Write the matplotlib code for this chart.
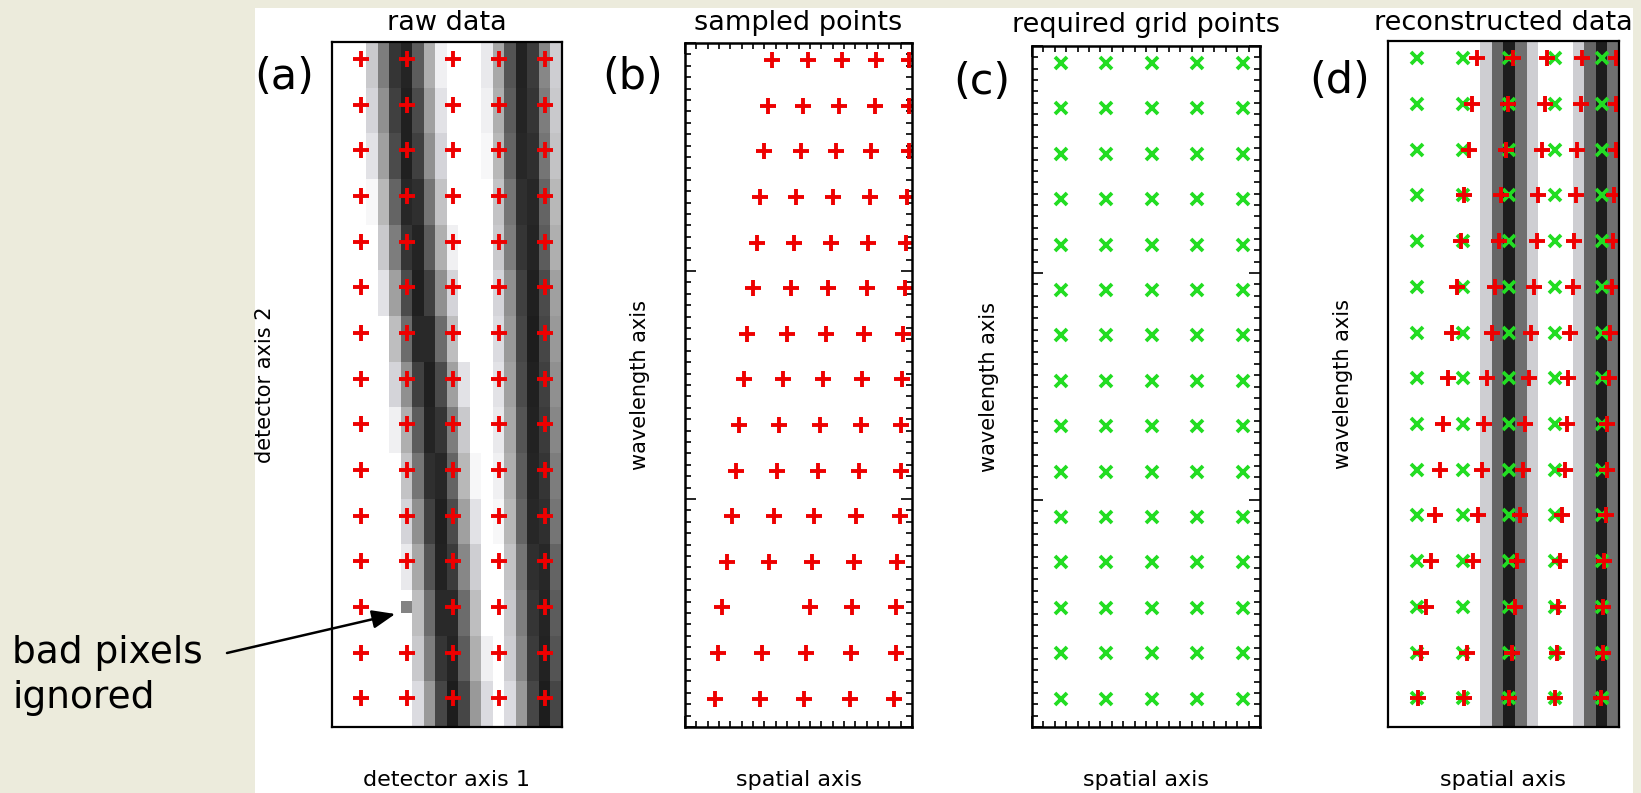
import numpy as np
import matplotlib
matplotlib.use("Agg")
import matplotlib.pyplot as plt
from matplotlib.colors import LinearSegmentedColormap
from matplotlib.ticker import MultipleLocator
from matplotlib.patches import Rectangle

# ---------------- data ----------------
titles = ["raw data", "sampled points", "required grid points", "reconstructed data"]
panel_tags = ["(a)", "(b)", "(c)", "(d)"]
xlabels = ["detector axis 1", "spatial axis", "spatial axis", "spatial axis"]
ylabels = ["detector axis 2", "wavelength axis", "wavelength axis", "wavelength axis"]
note_lines = ["bad pixels", "ignored"]

n_det_cols = 20
n_det_rows = 60
rows_per_sample = 4

# detector sample positions (image pixel units)
sample_cols = [2.5, 6.5, 10.5, 14.5, 18.5]
sample_rows = [1.5, 5.5, 9.5, 13.5, 17.5, 21.5, 25.5, 29.5, 33.5, 37.5,
               41.5, 45.5, 49.5, 53.5, 57.5]

# bad pixel (column index, row index) and its value
bad_col, bad_row = 6, 49
bad_value = 0.5

# spectral line centres (pixel index) for each sampled row
line1_centres = [5.7, 5.9, 6.1, 6.4, 6.7, 7.1, 7.5, 7.9, 8.3, 8.6, 8.9, 9.2, 9.5, 9.7, 10.0]
line2_centres = [16.2, 16.3, 16.4, 16.6, 16.7, 16.9, 17.0, 17.1, 17.2, 17.3, 17.4, 17.6, 17.7, 17.8, 18.0]
# line profile: brightness vs distance from centre (pixels)
profile_dist = [0.0, 0.5, 1.0, 1.5, 2.0, 2.5, 3.0, 3.5]
profile_val = [0.05, 0.12, 0.28, 0.42, 0.58, 0.72, 0.86, 1.0]

# sampled points on the (spatial, wavelength) plane, one list per sampled row
sampled_x = [
    [7.7, 10.8, 13.8, 16.8, 19.7],
    [7.3, 10.4, 13.6, 16.7, 19.7],
    [7.0, 10.2, 13.3, 16.4, 19.7],
    [6.6, 9.8, 13.0, 16.3, 19.6],
    [6.3, 9.6, 12.9, 16.1, 19.5],
    [6.0, 9.3, 12.6, 16.0, 19.4],
    [5.5, 9.0, 12.4, 15.8, 19.2],
    [5.2, 8.6, 12.2, 15.6, 19.1],
    [4.8, 8.3, 11.9, 15.5, 19.0],
    [4.5, 8.1, 11.7, 15.3, 19.0],
    [4.1, 7.8, 11.4, 15.1, 18.9],
    [3.7, 7.4, 11.2, 14.9, 18.7],
    [3.3, np.nan, 11.0, 14.7, 18.6],
    [2.9, 6.8, 10.7, 14.6, 18.6],
    [2.6, 6.6, 10.5, 14.5, 18.4],
]

# required regular grid
grid_cols = [2.5, 6.5, 10.5, 14.5, 18.5]
grid_rows = sample_rows

# reconstructed image: brightness per spatial column (same for every row)
recon_columns = [1, 1, 1, 1, 1, 1, 1, 1, 0.8, 0.4, 0.05, 0.43, 0.8,
                 1, 1, 1, 0.8, 0.4, 0.05, 0.43]

# ---------------- figure ----------------
W, H = 1641, 793
fig = plt.figure(figsize=(W / 100, H / 100), dpi=100)
fig.patch.set_facecolor("#ecebdc")
fig.add_artist(Rectangle((255 / W, 0), (1633 - 255) / W, 1 - 8 / H,
                         transform=fig.transFigure, facecolor="white",
                         edgecolor="none", zorder=-5))

cmap = LinearSegmentedColormap.from_list(
    "spec", [(0.0, "#151515"), (0.3, "#4a4a4a"), (0.5, "#838383"),
             (0.7, "#bababa"), (0.85, "#d8d8de"), (1.0, "#ffffff")])


def px_axes(x0, y0, x1, y1):
    return fig.add_axes([x0 / W, 1 - y1 / H, (x1 - x0) / W, (y1 - y0) / H])


boxes = [(332, 42, 562, 727), (685, 43, 912, 727),
         (1032, 46, 1260, 727), (1388, 41, 1619, 727)]
axes = [px_axes(*b) for b in boxes]

# raw detector image
raw = np.ones((n_det_rows, n_det_cols))
col_idx = np.arange(n_det_cols)
for r in range(len(sample_rows)):
    v = np.ones(n_det_cols)
    for centres in (line1_centres, line2_centres):
        d = np.abs(col_idx - centres[r])
        v = np.minimum(v, np.interp(d, profile_dist, profile_val))
    raw[r * rows_per_sample:(r + 1) * rows_per_sample, :] = v
raw[bad_row, bad_col] = bad_value

recon = np.tile(np.array(recon_columns, dtype=float), (n_det_rows, 1))

red_kw = dict(marker="+", ms=11, mew=2.8, color="#ee0000", ls="none")
green_kw = dict(marker="x", ms=8, mew=2.7, color="#22dd22", ls="none")

ax_a, ax_b, ax_c, ax_d = axes
for ax in axes:
    ax.set_xlim(0, n_det_cols)
    ax.set_ylim(n_det_rows, 0)

# (a)
ax_a.imshow(raw, cmap=cmap, vmin=0, vmax=1, extent=(0, n_det_cols, n_det_rows, 0),
            interpolation="nearest", aspect="auto")
for r, yv in enumerate(sample_rows):
    for c, xv in enumerate(sample_cols):
        if int(xv) == bad_col and int(yv) == bad_row:
            continue
        ax_a.plot(xv, yv, **red_kw)

# (b)
for r, yv in enumerate(sample_rows):
    ax_b.plot(sampled_x[r], [yv] * len(sampled_x[r]), **red_kw)

# (c)
for yv in grid_rows:
    ax_c.plot(grid_cols, [yv] * len(grid_cols), **green_kw)

# (d)
ax_d.imshow(recon, cmap=cmap, vmin=0, vmax=1, extent=(0, n_det_cols, n_det_rows, 0),
            interpolation="nearest", aspect="auto")
for yv in grid_rows:
    ax_d.plot(grid_cols, [yv] * len(grid_cols), **green_kw)
for r, yv in enumerate(sample_rows):
    ax_d.plot(sampled_x[r], [yv] * len(sampled_x[r]), **red_kw)

for ax in (ax_a, ax_d):
    ax.set_xticks([])
    ax.set_yticks([])
    for s in ax.spines.values():
        s.set_linewidth(1.6)
for ax in (ax_b, ax_c):
    ax.xaxis.set_major_locator(MultipleLocator(20))
    ax.xaxis.set_minor_locator(MultipleLocator(1))
    ax.yaxis.set_major_locator(MultipleLocator(20))
    ax.yaxis.set_minor_locator(MultipleLocator(1))
    ax.tick_params(which="both", direction="in", top=True, right=True,
                   labelbottom=False, labelleft=False, width=1.2)
    ax.tick_params(which="major", length=8)
    ax.tick_params(which="minor", length=4.5)
    for s in ax.spines.values():
        s.set_linewidth(1.8)


def ftext(x, y, s, **kw):
    return fig.text(x / W, 1 - y / H, s, **kw)


title_base = [30, 30, 32, 30]
tag_pos = [(284, 77), (633, 77), (982, 82), (1340, 81)]
ylab_x = [265, 640, 989, 1343]
for i, (x0, y0, x1, y1) in enumerate(boxes):
    cx = (x0 + x1) / 2
    ftext(cx, title_base[i], titles[i], ha="center", va="baseline", fontsize=19.5)
    ftext(tag_pos[i][0], tag_pos[i][1], panel_tags[i], ha="center", va="center", fontsize=31)
    ftext(ylab_x[i], (y0 + y1) / 2, ylabels[i], ha="center", va="center",
          rotation=90, fontsize=15)
    ftext(cx, 780, xlabels[i], ha="center", va="center", fontsize=16)

ftext(12, 663, note_lines[0], ha="left", va="baseline", fontsize=27)
ftext(12, 708, note_lines[1], ha="left", va="baseline", fontsize=27)

ann = ax_a.annotate("", xy=(bad_col - 0.5, bad_row + 1.1), xycoords="data",
                    xytext=(227, H - 653), textcoords="figure pixels",
                    arrowprops=dict(arrowstyle="-|>,head_length=0.7,head_width=0.28",
                                    mutation_scale=20, color="black", lw=1.8,
                                    shrinkA=0, shrinkB=0),
                    annotation_clip=False)
ann.set_clip_on(False)
ann.arrow_patch.set_clip_on(False)

fig.savefig("out.png", dpi=100, facecolor=fig.get_facecolor())
